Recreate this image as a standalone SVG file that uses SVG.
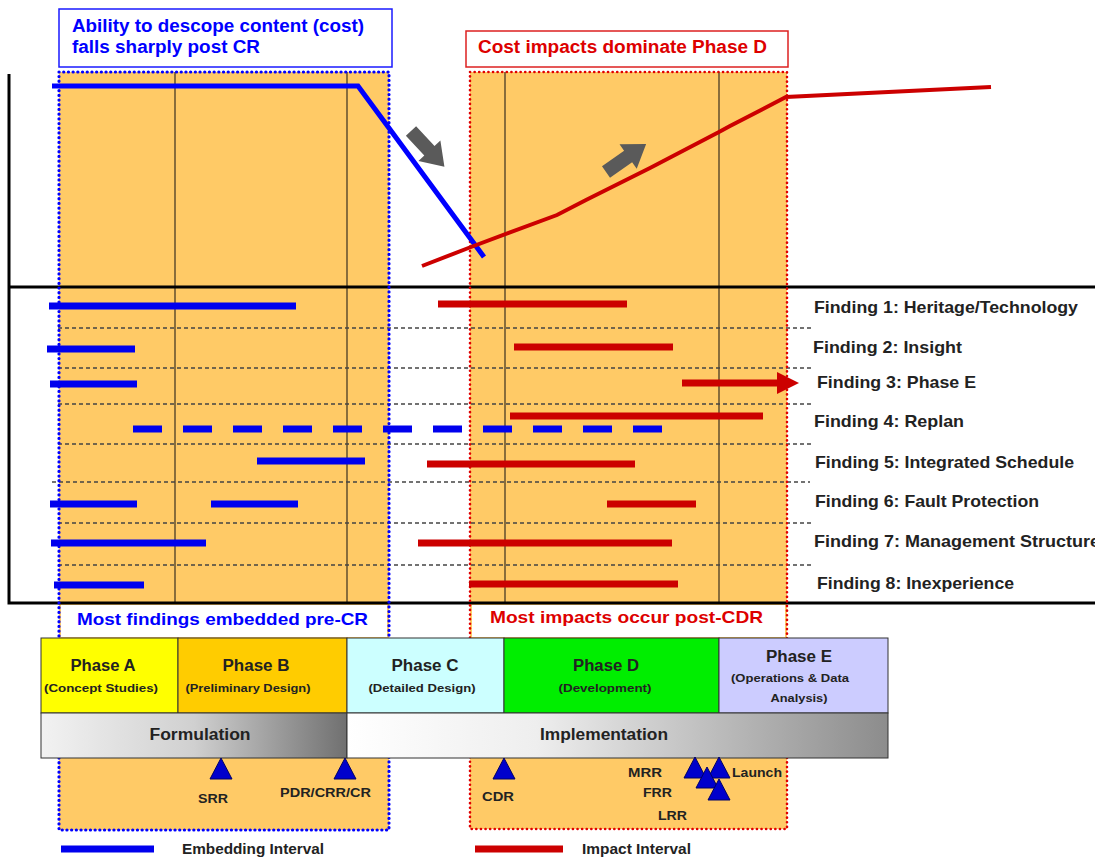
<svg xmlns="http://www.w3.org/2000/svg" width="1095" height="859" viewBox="0 0 1095 859">
<defs>
<linearGradient id="gForm" x1="0" y1="0" x2="1" y2="0">
<stop offset="0" stop-color="#f2f2f2"/><stop offset="0.5" stop-color="#d0d0d0"/><stop offset="1" stop-color="#707070"/>
</linearGradient>
<linearGradient id="gImpl" x1="0" y1="0" x2="1" y2="0">
<stop offset="0" stop-color="#ffffff"/><stop offset="0.35" stop-color="#eeeeee"/><stop offset="1" stop-color="#8c8c8c"/>
</linearGradient>
<polygon id="blockArrow" points="0,-7 27,-7 27,-15 49,0 27,15 27,7 0,7" fill="#5a5a5a"/>
<polygon id="tri" points="0,0 11,21 -11,21" fill="#0000cc" stroke="#000066" stroke-width="1"/>
</defs>
<style>
.region{fill:#ffca66}
.bdot{fill:none;stroke:#0000ff;stroke-width:3.2;stroke-dasharray:0.1 4.6;stroke-linecap:round}
.rdot{fill:none;stroke:#e00000;stroke-width:2.6;stroke-dasharray:0.1 4.5;stroke-linecap:round}
.vline{stroke:#3a3020;stroke-width:1.2}
.dash{stroke:#444;stroke-width:1.5;stroke-dasharray:4 3}
.axis{stroke:#000;stroke-width:3;fill:none}
.bbar{stroke:#0000ee;stroke-width:7}
.rbar{stroke:#cc0000;stroke-width:7}
.t{font-family:"Liberation Sans",Arial,sans-serif;font-weight:bold}
.find{font-size:17px;fill:#222}
.ph{font-size:16px;fill:#222;text-anchor:middle}
.phs{font-size:10.5px;fill:#222;text-anchor:middle}
.ms{font-size:13px;fill:#222}
.cell{stroke:#333;stroke-width:1}
</style>

<g id="regions">
<rect class="region" x="59" y="72" width="330" height="758"/>
<rect class="region" x="470" y="72" width="317" height="757"/>
</g>

<g id="grid">
<line class="vline" x1="175" y1="72" x2="175" y2="603"/>
<line class="vline" x1="347" y1="72" x2="347" y2="603"/>
<line class="vline" x1="505" y1="72" x2="505" y2="603"/>
<line class="vline" x1="719" y1="72" x2="719" y2="603"/>
<line class="dash" x1="58" y1="328" x2="814" y2="328"/>
<line class="dash" x1="58" y1="368" x2="814" y2="368"/>
<line class="dash" x1="58" y1="404" x2="814" y2="404"/>
<line class="dash" x1="58" y1="444" x2="814" y2="444"/>
<line class="dash" x1="52" y1="482" x2="810" y2="482"/>
<line class="dash" x1="58" y1="523" x2="814" y2="523"/>
<line class="dash" x1="58" y1="565" x2="814" y2="565"/>
<polyline class="axis" points="9,74 9,603 1095,603"/>
<line class="axis" x1="9" y1="287" x2="1095" y2="287"/>
</g>

<g id="region-borders">
<rect class="bdot" x="59" y="72" width="330" height="758"/>
<rect class="rdot" x="470" y="72" width="317" height="757"/>
</g>

<g id="header-descope">
<rect x="59" y="9" width="333" height="58" fill="#fff" stroke="#1a1aff" stroke-width="1.5"/>
<text class="t" x="72" y="32" font-size="18" fill="#0000ff" textLength="292" lengthAdjust="spacingAndGlyphs">Ability to  descope content (cost)</text>
<text class="t" x="72" y="53" font-size="18" fill="#0000ff" textLength="188" lengthAdjust="spacingAndGlyphs">falls sharply post CR</text>
</g>

<g id="header-cost">
<rect x="466" y="31" width="322" height="36" fill="#fff" stroke="#dd2020" stroke-width="1.5"/>
<text class="t" x="478" y="53" font-size="18" fill="#dd0000" textLength="289" lengthAdjust="spacingAndGlyphs">Cost impacts dominate Phase D</text>
</g>

<g id="connectors">
<polyline points="52,86 358,86 484,257" fill="none" stroke="#0000ff" stroke-width="5"/>
<polyline points="422,266 471,247 557,215 586,200 650,168 719,132 730,126 786,97 991,87" fill="none" stroke="#cc0000" stroke-width="4"/>
<use href="#blockArrow" transform="translate(411,131) rotate(47)"/>
<use href="#blockArrow" transform="translate(606,172) rotate(-35)"/>
</g>

<g id="embedding-bars">
<line class="bbar" x1="49" y1="306" x2="296" y2="306"/>
<line class="bbar" x1="47" y1="349" x2="135" y2="349"/>
<line class="bbar" x1="50" y1="384" x2="137" y2="384"/>
<line class="bbar" x1="133" y1="429" x2="662" y2="429" stroke-dasharray="29 21"/>
<line class="bbar" x1="257" y1="461" x2="365" y2="461"/>
<line class="bbar" x1="50" y1="504" x2="137" y2="504"/>
<line class="bbar" x1="211" y1="504" x2="298" y2="504"/>
<line class="bbar" x1="51" y1="543" x2="206" y2="543"/>
<line class="bbar" x1="54" y1="585" x2="144" y2="585"/>
</g>

<g id="impact-bars">
<line class="rbar" x1="438" y1="304" x2="627" y2="304"/>
<line class="rbar" x1="514" y1="347" x2="673" y2="347"/>
<line class="rbar" x1="682" y1="383" x2="778" y2="383"/>
<polygon points="777,372 799,383 777,394" fill="#cc0000"/>
<line class="rbar" x1="510" y1="416" x2="763" y2="416"/>
<line class="rbar" x1="427" y1="464" x2="635" y2="464"/>
<line class="rbar" x1="607" y1="504" x2="696" y2="504"/>
<line class="rbar" x1="418" y1="543" x2="672" y2="543"/>
<line class="rbar" x1="469" y1="584" x2="678" y2="584"/>
</g>

<g id="findings">
<text class="t find" x="814" y="313" textLength="264" lengthAdjust="spacingAndGlyphs">Finding 1:  Heritage/Technology</text>
<text class="t find" x="813" y="353" textLength="149" lengthAdjust="spacingAndGlyphs">Finding 2:  Insight</text>
<text class="t find" x="817" y="388" textLength="159" lengthAdjust="spacingAndGlyphs">Finding 3:  Phase E</text>
<text class="t find" x="814" y="427" textLength="150" lengthAdjust="spacingAndGlyphs">Finding 4:  Replan</text>
<text class="t find" x="815" y="468" textLength="259" lengthAdjust="spacingAndGlyphs">Finding 5:  Integrated Schedule</text>
<text class="t find" x="815" y="507" textLength="224" lengthAdjust="spacingAndGlyphs">Finding 6:  Fault Protection</text>
<text class="t find" x="814" y="547" textLength="286" lengthAdjust="spacingAndGlyphs">Finding 7:  Management Structure</text>
<text class="t find" x="817" y="589" textLength="197" lengthAdjust="spacingAndGlyphs">Finding 8:  Inexperience</text>
</g>

<g id="note-embedded">
<rect x="61" y="605" width="326" height="32" fill="#fff"/>
<text class="t" x="77" y="625" font-size="17" fill="#0000ff" textLength="291" lengthAdjust="spacingAndGlyphs">Most findings embedded pre-CR</text>
</g>
<g id="note-impacts">
<rect x="472" y="605" width="313" height="32" fill="#fff"/>
<text class="t" x="490" y="623" font-size="17" fill="#dd0000" textLength="273" lengthAdjust="spacingAndGlyphs">Most impacts occur post-CDR</text>
</g>

<g id="phase-a">
<rect class="cell" x="41" y="638" width="137" height="75" fill="#ffff00"/>
<text class="t ph" x="103" y="671" textLength="65" lengthAdjust="spacingAndGlyphs">Phase A</text>
<text class="t phs" x="101" y="692" textLength="114" lengthAdjust="spacingAndGlyphs">(Concept Studies)</text>
</g>
<g id="phase-b">
<rect class="cell" x="178" y="638" width="169" height="75" fill="#ffcc00"/>
<text class="t ph" x="256" y="671" textLength="67" lengthAdjust="spacingAndGlyphs">Phase B</text>
<text class="t phs" x="248" y="692" textLength="125" lengthAdjust="spacingAndGlyphs">(Preliminary Design)</text>
</g>
<g id="phase-c">
<rect class="cell" x="347" y="638" width="157" height="75" fill="#ccffff"/>
<text class="t ph" x="425" y="671" textLength="67" lengthAdjust="spacingAndGlyphs">Phase C</text>
<text class="t phs" x="422" y="692" textLength="107" lengthAdjust="spacingAndGlyphs">(Detailed Design)</text>
</g>
<g id="phase-d">
<rect class="cell" x="504" y="638" width="215" height="75" fill="#00ee00"/>
<text class="t ph" x="606" y="671" textLength="66" lengthAdjust="spacingAndGlyphs">Phase D</text>
<text class="t phs" x="605" y="692" textLength="93" lengthAdjust="spacingAndGlyphs">(Development)</text>
</g>
<g id="phase-e">
<rect class="cell" x="719" y="638" width="169" height="75" fill="#ccccff"/>
<text class="t ph" x="799" y="662" textLength="66" lengthAdjust="spacingAndGlyphs">Phase E</text>
<text class="t phs" x="790" y="682" textLength="118" lengthAdjust="spacingAndGlyphs">(Operations &amp; Data</text>
<text class="t phs" x="799" y="702" textLength="57" lengthAdjust="spacingAndGlyphs">Analysis)</text>
</g>
<g id="formulation">
<rect class="cell" x="41" y="713" width="306" height="45" fill="url(#gForm)"/>
<text class="t" x="200" y="740" font-size="16" fill="#222" text-anchor="middle" textLength="101" lengthAdjust="spacingAndGlyphs">Formulation</text>
</g>
<g id="implementation">
<rect class="cell" x="347" y="713" width="541" height="45" fill="url(#gImpl)"/>
<text class="t" x="604" y="740" font-size="16" fill="#222" text-anchor="middle" textLength="128" lengthAdjust="spacingAndGlyphs">Implementation</text>
</g>

<g id="milestones">
<use href="#tri" x="221" y="758"/>
<use href="#tri" x="345" y="758"/>
<use href="#tri" x="504" y="758"/>
<use href="#tri" x="695" y="757"/>
<use href="#tri" x="719" y="757"/>
<use href="#tri" x="707" y="767"/>
<use href="#tri" x="719" y="779"/>
<text class="t ms" x="198" y="803" textLength="30" lengthAdjust="spacingAndGlyphs">SRR</text>
<text class="t ms" x="280" y="797" textLength="91" lengthAdjust="spacingAndGlyphs">PDR/CRR/CR</text>
<text class="t ms" x="482" y="801" textLength="32" lengthAdjust="spacingAndGlyphs">CDR</text>
<text class="t ms" x="628" y="777" textLength="34" lengthAdjust="spacingAndGlyphs">MRR</text>
<text class="t ms" x="643" y="797" textLength="29" lengthAdjust="spacingAndGlyphs">FRR</text>
<text class="t ms" x="658" y="820" textLength="29" lengthAdjust="spacingAndGlyphs">LRR</text>
<text class="t ms" x="732" y="777" textLength="50" lengthAdjust="spacingAndGlyphs">Launch</text>
</g>

<g id="legend">
<line x1="61" y1="849" x2="154" y2="849" stroke="#0000ee" stroke-width="7"/>
<text class="t" x="182" y="854" font-size="14" fill="#222" textLength="142" lengthAdjust="spacingAndGlyphs">Embedding Interval</text>
<line x1="475" y1="849" x2="563" y2="849" stroke="#cc0000" stroke-width="7"/>
<text class="t" x="582" y="854" font-size="14" fill="#222" textLength="109" lengthAdjust="spacingAndGlyphs">Impact Interval</text>
</g>
</svg>
